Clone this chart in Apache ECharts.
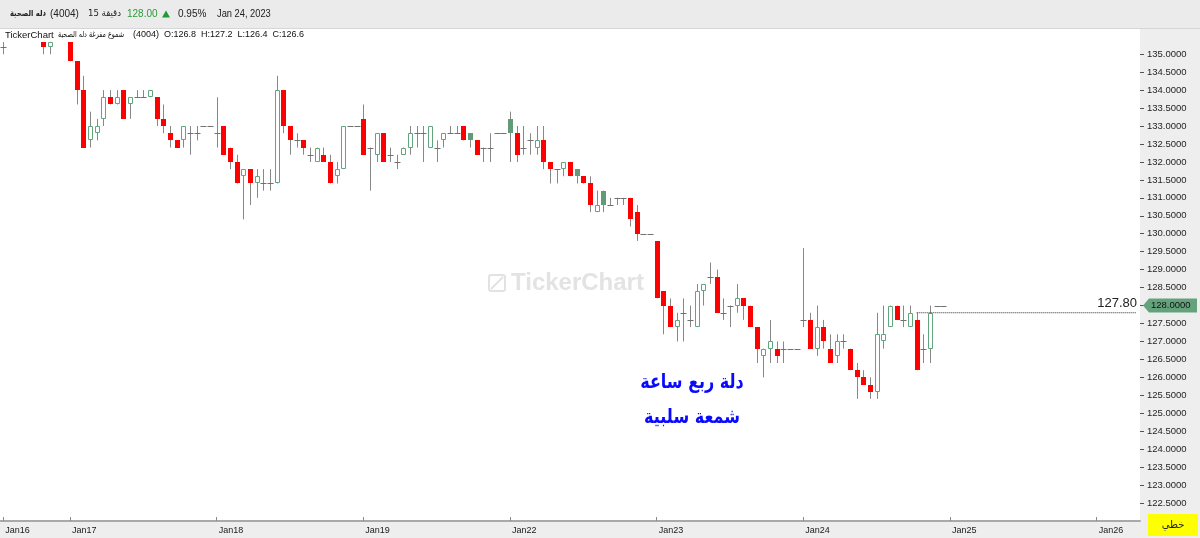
<!DOCTYPE html>
<html>
<head>
<meta charset="utf-8">
<script src="https://cdn.jsdelivr.net/npm/echarts@6/dist/echarts.min.js"></script>
<style>
html,body{margin:0;padding:0;background:#eeeeee;}
#chart{width:1200px;height:538px;}
</style>
</head>
<body>
<div id="chart"></div>
<script>
// ---- data (15-minute candles, Dallah Healthcare 4004) ----
const dayLabels = ['Jan16','Jan17','Jan18','Jan19','Jan22','Jan23','Jan24','Jan25','Jan26'];
const slotsPerDay = 22;
const firstDayStartSlot = 12;
const visibleSlots = 171;

const openP = [
135.2,135.6,135.8,135.8,135.6,135.6,135.4,135.2,135.6,135.6,
135.6,134.8,134.0,132.6,132.8,133.2,133.8,133.6,134.0,133.6,
133.8,133.8,133.8,133.8,133.2,132.8,132.6,132.6,132.8,132.8,
133.0,133.0,132.8,133.0,132.4,132.0,131.6,131.8,131.4,131.4,
131.4,131.4,134.0,133.0,132.6,132.6,132.2,132.0,132.2,132.0,
131.6,131.8,133.0,133.0,133.2,132.4,132.2,132.8,132.2,132.0,
132.2,132.4,132.8,132.8,132.4,132.4,132.6,132.8,132.8,133.0,
132.6,132.6,132.4,132.4,132.8,132.8,132.8,132.8,132.4,132.6,
132.4,132.6,132.0,131.8,131.8,132.0,131.6,131.6,131.4,130.6,
130.8,130.8,131.0,131.0,131.0,130.6,130.0,130.0,129.8,128.4,
128.0,127.4,127.8,127.6,127.4,128.4,128.8,128.8,127.8,128.0,
128.0,128.2,128.0,127.4,126.6,126.8,126.8,126.8,126.8,126.8,
127.6,127.6,126.8,127.4,126.8,126.6,127.0,126.8,126.2,126.0,
125.8,125.6,127.0,127.4,128.0,127.6,127.4,127.6,126.8,126.8,
128.0,128.0];
const highP = [
135.4,135.8,136.0,136.0,135.8,135.8,135.4,135.6,135.8,135.8,
135.6,134.8,134.4,133.4,133.2,134.0,134.0,134.0,134.0,133.8,
134.0,134.0,134.0,133.8,133.6,133.0,132.6,133.0,133.0,133.0,
133.0,133.0,133.8,133.0,132.4,132.2,131.8,131.8,131.8,131.8,
131.8,134.4,134.0,133.0,132.8,132.6,132.4,132.4,132.4,132.2,
132.0,133.0,133.0,133.0,133.6,132.4,132.8,132.8,132.4,132.2,
132.4,133.0,133.0,133.0,133.0,132.6,132.8,133.0,133.0,133.0,
132.8,132.6,132.4,132.8,132.8,132.8,133.4,133.0,133.0,132.8,
133.0,133.0,132.0,131.8,132.0,132.0,131.8,131.6,131.6,131.2,
131.2,131.0,131.0,131.0,131.0,130.8,130.0,130.0,129.8,128.4,
128.2,127.8,128.2,128.0,128.6,128.6,129.2,129.0,128.2,128.0,
128.6,128.2,128.0,127.4,126.8,127.6,127.0,127.0,126.8,126.8,
129.6,127.8,128.0,127.6,127.2,127.2,127.2,126.8,126.4,126.2,
126.0,127.8,128.0,128.0,128.0,128.0,128.0,127.8,127.2,128.0,
128.0,128.0];
const lowP = [
135.0,135.4,135.6,135.6,135.4,135.4,135.0,135.0,135.4,135.4,
134.8,133.6,132.4,132.4,132.6,133.0,133.6,133.6,133.2,133.2,
133.8,133.8,133.8,133.0,132.8,132.4,132.4,132.4,132.2,132.6,
133.0,133.0,132.4,132.2,131.8,131.4,130.4,130.8,131.0,131.2,
131.2,131.4,132.8,132.2,132.4,132.2,132.0,132.0,132.0,131.4,
131.4,131.8,133.0,133.0,132.2,131.2,132.0,132.0,132.0,131.8,
132.2,132.2,132.4,132.0,132.4,132.0,132.4,132.8,132.8,132.6,
132.4,132.2,132.0,132.0,132.8,132.8,132.0,132.0,132.2,132.2,
132.2,131.8,131.4,131.4,131.6,131.6,131.4,131.4,130.6,130.6,
130.6,130.8,130.8,130.8,130.2,129.8,130.0,130.0,128.2,127.2,
127.4,127.0,127.0,127.4,127.4,128.0,128.6,127.8,127.6,127.4,
127.8,127.6,127.4,126.4,126.0,126.4,126.4,126.4,126.8,126.8,
127.4,126.8,126.6,126.8,126.4,126.4,126.8,126.2,125.4,125.8,
125.4,125.4,126.8,127.4,127.6,127.4,127.4,126.2,126.4,126.4,
128.0,128.0];
const closeP = [
135.2,135.8,135.8,135.6,135.6,135.4,135.2,135.6,135.6,135.6,
134.8,134.0,132.4,133.0,133.0,133.8,133.6,133.8,133.2,133.8,
133.8,133.8,134.0,133.2,133.0,132.6,132.4,133.0,132.8,132.8,
133.0,133.0,132.8,132.2,132.0,131.4,131.8,131.4,131.6,131.4,
131.4,134.0,133.0,132.6,132.6,132.4,132.2,132.4,132.0,131.4,
131.8,133.0,133.0,133.0,132.2,132.4,132.8,132.0,132.2,132.0,
132.4,132.8,132.8,132.8,133.0,132.4,132.8,132.8,132.8,132.6,
132.8,132.2,132.4,132.4,132.8,132.8,133.2,132.2,132.4,132.6,
132.6,132.0,131.8,131.8,132.0,131.6,131.8,131.4,130.8,130.8,
131.2,130.8,131.0,131.0,130.4,130.0,130.0,130.0,128.2,128.0,
127.4,127.6,127.8,127.6,128.4,128.6,128.8,127.8,127.8,128.0,
128.2,128.0,127.4,126.8,126.8,127.0,126.6,126.8,126.8,126.8,
127.6,126.8,127.4,127.0,126.4,127.0,127.0,126.2,126.0,125.8,
125.6,127.2,127.2,128.0,127.6,127.6,127.8,126.2,126.8,127.8,
128.0,128.0];
const filledUp = [70, 76, 86, 90];
const yTickMin = 122.0, yTickMax = 135.34, yStep = 0.5;
const lastPrice = 128.00;
const drawnLineValue = 127.80;
const drawnLineFrom = 137, drawnLineTo = 170;

// ---- categories ----
const categories = [];
(function(){
  let d = 0, s = firstDayStartSlot;
  while (categories.length < visibleSlots) {
    const mins = 600 + 15 * s;
    const hh = String(Math.floor(mins / 60)).padStart(2,'0');
    const mm = String(mins % 60).padStart(2,'0');
    categories.push(dayLabels[d] + ' ' + hh + ':' + mm);
    s++;
    if (s >= slotsPerDay) { s = 0; d++; }
  }
})();
function isDayStart(idx) {
  if (idx === 0) return true;
  return categories[idx].split(' ')[0] !== categories[idx-1].split(' ')[0];
}

const candleData = openP.map((o, i) => [i, o, closeP[i], lowP[i], highP[i], filledUp.indexOf(i) >= 0 ? 1 : 0]);

const RED = '#ff0000', GREEN = '#62a67d', GREEN_FILL = '#5f9c77', WICK = '#888888', DOJI = '#707070';

function renderCandle(params, api) {
  const i = api.value(0), o = api.value(1), c = api.value(2), l = api.value(3), h = api.value(4), filled = api.value(5);
  const cs = params.coordSys;
  const pH = api.coord([i, h]), pL = api.coord([i, l]), pO = api.coord([i, o]), pC = api.coord([i, c]);
  const cx = Math.round(pH[0]);
  const children = [];
  const y1 = Math.max(pH[1], cs.y), y2 = Math.min(pL[1], cs.y + cs.height);
  if (y2 > y1) {
    children.push({type: 'line', shape: {x1: cx + 0.5, y1: y1, x2: cx + 0.5, y2: y2}, style: {stroke: WICK, lineWidth: 1}});
  }
  if (o === c) {
    const yy = Math.round(pC[1]) + 0.5;
    if (yy >= cs.y && yy <= cs.y + cs.height) {
      children.push({type: 'line', shape: {x1: cx - 2.5, y1: yy, x2: cx + 3.5, y2: yy}, style: {stroke: DOJI, lineWidth: 1}});
    }
  } else {
    let top = Math.round(Math.min(pO[1], pC[1])), bot = Math.round(Math.max(pO[1], pC[1]));
    top = Math.max(top, Math.round(cs.y)); bot = Math.min(bot, cs.y + cs.height);
    if (bot > top) {
      if (c < o) {
        children.push({type: 'rect', shape: {x: cx - 2, y: top, width: 5, height: bot - top}, style: {fill: RED}});
      } else if (filled) {
        children.push({type: 'rect', shape: {x: cx - 2, y: top, width: 5, height: bot - top}, style: {fill: GREEN_FILL}});
      } else {
        children.push({type: 'rect', shape: {x: cx - 1.5, y: top + 0.5, width: 4, height: Math.max(bot - top - 1, 1)}, style: {fill: '#ffffff', stroke: GREEN, lineWidth: 1}});
      }
    }
  }
  return {type: 'group', children: children};
}

const chart = echarts.init(document.getElementById('chart'), null, {renderer: 'canvas'});
const GRID = {left: 0, right: 60, top: 42, bottom: 17};

const option = {
  animation: false,
  backgroundColor: '#eeeeee',
  grid: GRID,
  xAxis: {
    type: 'category',
    data: categories,
    boundaryGap: true,
    axisLine: {show: true, lineStyle: {color: '#a9a9a9', width: 2}},
    axisTick: {show: true, inside: true, length: 4, alignWithLabel: true, interval: (idx) => isDayStart(idx), lineStyle: {color: '#8a8a8a'}},
    axisLabel: {
      show: true, interval: (idx) => isDayStart(idx), align: 'left', margin: 5, padding: [0,0,0,2],
      color: '#1a1a1a', fontSize: 9, fontFamily: 'Liberation Sans',
      formatter: (v) => v.split(' ')[0]
    },
    splitLine: {show: false}
  },
  yAxis: {
    type: 'value', position: 'right', min: yTickMin, max: yTickMax, interval: yStep, scale: true,
    axisLine: {show: false},
    axisTick: {show: true, length: 4, lineStyle: {color: '#555'}},
    axisLabel: {show: true, margin: 7, color: '#1e1e1e', fontSize: 9.5, fontFamily: 'Liberation Sans',
      showMinLabel: false, showMaxLabel: false, formatter: (v) => v.toFixed(4)},
    splitLine: {show: false}
  },
  series: [
    {
      type: 'custom', name: 'candles', renderItem: renderCandle, data: candleData,
      encode: {x: 0, y: [1, 2, 3, 4]}, z: 5
    },
    {
      type: 'line', name: 'drawn', data: [[drawnLineFrom, drawnLineValue], [drawnLineTo, drawnLineValue]],
      symbol: 'none', lineStyle: {color: '#2a2a2a', width: 1, type: [1, 1]}, z: 6, silent: true
    }
  ]
};
chart.setOption(option);

const lastY = chart.convertToPixel({yAxisIndex: 0}, lastPrice);
const lineY = chart.convertToPixel({yAxisIndex: 0}, drawnLineValue);
const plotRight = 1200 - GRID.right;
const AR = '"DejaVu Sans"';

chart.setOption({
  graphic: [
    {type: 'rect', z: -10, silent: true, shape: {x: 0, y: 0, width: 1200, height: 28}, style: {fill: '#ebebeb'}},
    {type: 'line', z: -9, silent: true, shape: {x1: 0, y1: 28.5, x2: 1200, y2: 28.5}, style: {stroke: '#d6d6d6', lineWidth: 1}},
    {type: 'rect', z: -10, silent: true, shape: {x: 0, y: 29, width: plotRight, height: 492}, style: {fill: '#ffffff'}},
    // header line 1
    {type: 'text', z: 10, x: 10, y: 14, scaleX: 0.8, style: {x: 0, y: 0, text: 'دله الصحية', fill: '#222', font: 'bold 8.5px ' + AR, textAlign: 'left', textVerticalAlign: 'middle'}},
    {type: 'text', z: 10, style: {x: 50, y: 14, text: '(4004)', fill: '#222', font: '10px "Liberation Sans"', textVerticalAlign: 'middle'}},
    {type: 'text', z: 10, x: 88, y: 14, scaleX: 0.9, style: {x: 0, y: 0, text: '15 دقيقة', fill: '#222', font: '9.5px ' + AR, textVerticalAlign: 'middle'}},
    {type: 'text', z: 10, style: {x: 127, y: 14, text: lastPrice.toFixed(2), fill: '#2e9a3a', font: '10px "Liberation Sans"', textVerticalAlign: 'middle'}},
    {type: 'polygon', z: 10, shape: {points: [[162, 17.5], [170, 17.5], [166, 10.5]]}, style: {fill: '#1f9a3a'}},
    {type: 'text', z: 10, style: {x: 178, y: 14, text: '0.95%', fill: '#222', font: '10px "Liberation Sans"', textVerticalAlign: 'middle'}},
    {type: 'text', z: 10, x: 217, y: 14, scaleX: 0.93, style: {x: 0, y: 0, text: 'Jan 24, 2023', fill: '#222', font: '10px "Liberation Sans"', textVerticalAlign: 'middle'}},
    // header line 2
    {type: 'text', z: 10, style: {x: 5, y: 35, text: 'TickerChart', fill: '#111', font: '9.5px "Liberation Sans"', textVerticalAlign: 'middle'}},
    {type: 'text', z: 10, x: 58, y: 35, scaleX: 0.75, style: {x: 0, y: 0, text: 'شموع مفرغة دله الصحية', fill: '#111', font: '8.5px ' + AR, textAlign: 'left', textVerticalAlign: 'middle'}},
    {type: 'text', z: 10, style: {x: 133, y: 35, text: '(4004)  O:126.8  H:127.2  L:126.4  C:126.6', fill: '#111', font: '9px "Liberation Sans"', textVerticalAlign: 'middle'}},
    // watermark
    {type: 'rect', z: 1, silent: true, shape: {x: 489, y: 275, width: 16, height: 16, r: 2}, style: {fill: 'none', stroke: '#e2e2e2', lineWidth: 2}},
    {type: 'line', z: 1, silent: true, shape: {x1: 491, y1: 289, x2: 503, y2: 277}, style: {stroke: '#e2e2e2', lineWidth: 2}},
    {type: 'text', z: 1, silent: true, style: {x: 511, y: 283, text: 'TickerChart', fill: '#e3e3e3', font: 'bold 24px "Liberation Sans"', textVerticalAlign: 'middle'}},
    // annotation
    {type: 'text', z: 10, x: 692, y: 383, scaleX: 0.8, style: {x: 0, y: 0, text: 'دلة ربع ساعة', fill: '#0a0aff', font: 'bold 20px ' + AR, textAlign: 'center', textVerticalAlign: 'middle'}},
    {type: 'text', z: 10, x: 692, y: 418, scaleX: 0.8, style: {x: 0, y: 0, text: 'شمعة سلبية', fill: '#0a0aff', font: 'bold 20px ' + AR, textAlign: 'center', textVerticalAlign: 'middle'}},
    // drawn line label
    {type: 'text', z: 10, style: {x: plotRight - 3, y: lineY - 9, text: drawnLineValue.toFixed(2), fill: '#222', font: '13px "Liberation Sans"', textAlign: 'right', textVerticalAlign: 'middle'}},
    // last price tag
    {type: 'polygon', z: 10, shape: {points: [[1143, lastY], [1149, lastY - 7], [1197, lastY - 7], [1197, lastY + 7], [1149, lastY + 7]]}, style: {fill: '#64a27c'}},
    {type: 'text', z: 11, style: {x: 1151, y: lastY, text: lastPrice.toFixed(4), fill: '#111', font: '9.5px "Liberation Sans"', textVerticalAlign: 'middle'}},
    // bottom-right yellow box
    {type: 'rect', z: 10, shape: {x: 1148, y: 514, width: 50, height: 22}, style: {fill: '#ffff00'}},
    {type: 'text', z: 11, style: {x: 1173, y: 525, text: 'خطي', fill: '#222', font: '10px ' + AR, textAlign: 'center', textVerticalAlign: 'middle'}}
  ]
});
</script>
</body>
</html>
